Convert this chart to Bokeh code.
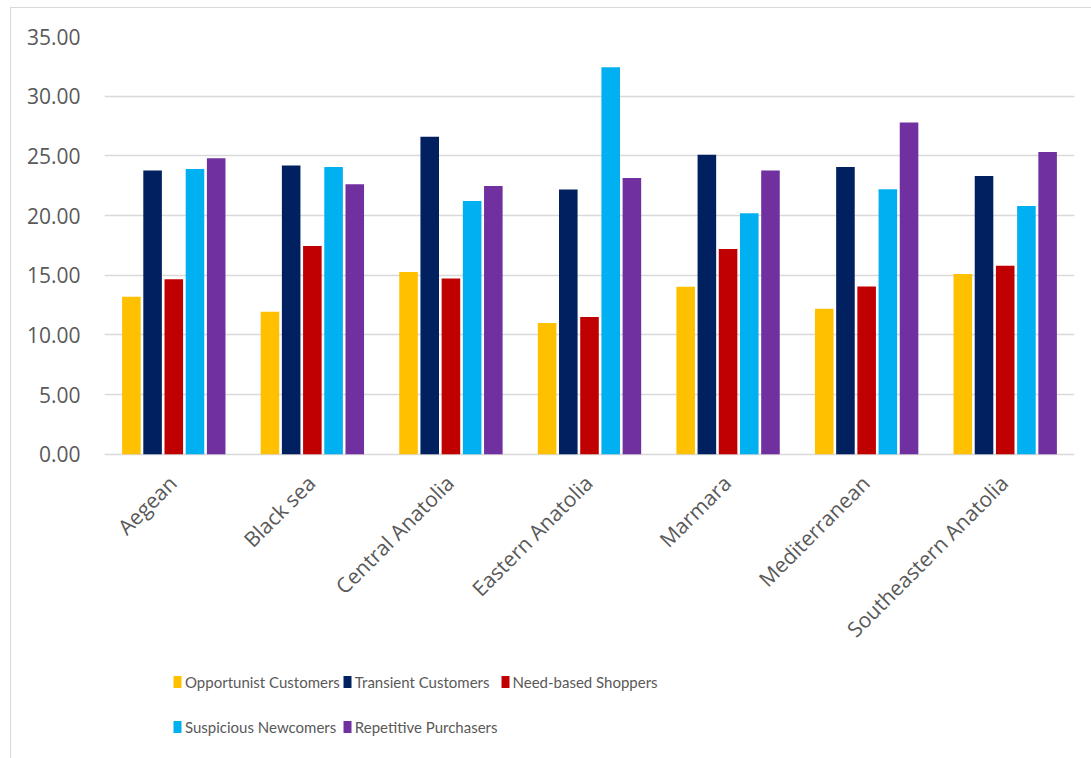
import math
from bokeh.plotting import figure
from bokeh.models import (ColumnDataSource, Range1d, Legend, LegendItem, FixedTicker,
                          NumeralTickFormatter)
from bokeh.core.properties import value
from bokeh.transform import dodge
from bokeh.embed import file_html
from bokeh.resources import INLINE

regions = ["Aegean", "Black sea", "Central Anatolia", "Eastern Anatolia",
           "Marmara", "Mediterranean", "Southeastern Anatolia"]
series_names = ["Opportunist Customers", "Transient Customers", "Need-based Shoppers",
                "Suspicious Newcomers", "Repetitive Purchasers"]
opportunist = [13.20, 11.94, 15.27, 11.00, 14.03, 12.19, 15.10]
transient = [23.77, 24.20, 26.60, 22.17, 25.10, 24.07, 23.32]
need_based = [14.65, 17.45, 14.73, 11.49, 17.20, 14.06, 15.80]
suspicious = [23.90, 24.07, 21.22, 32.43, 20.18, 22.20, 20.80]
repetitive = [24.80, 22.62, 22.48, 23.15, 23.77, 27.79, 25.33]
y_ticks = [0, 5, 10, 15, 20, 25, 30, 35]
colors = ["#FFC000", "#002060", "#C00000", "#00B0F0", "#7030A0"]

keys = ["opportunist", "transient", "need_based", "suspicious", "repetitive"]
source = ColumnDataSource(data=dict(
    region=regions, opportunist=opportunist, transient=transient,
    need_based=need_based, suspicious=suspicious, repetitive=repetitive,
    base=[0] * len(regions)))

FONT = "Open Sans"
TEXT = "#595959"
GRID = "#d9d9d9"

# the frame reaches down to the bottom so the legend can sit below the category labels
p = figure(x_range=regions, y_range=Range1d(-25.5, y_ticks[-1]), width=1081, height=751,
           output_backend="svg", toolbar_location=None, x_axis_location=None,
           min_border_left=93, min_border_right=18, min_border_top=28,
           min_border_bottom=1, margin=(7, 0, 0, 10))
p.styles = {"border-left": "1px solid #d9d9d9", "border-top": "1px solid #d9d9d9"}
p.outline_line_color = None
p.background_fill_color = "white"
p.border_fill_color = "white"

pitch = 0.153
renderers = []
for i, (k, c) in enumerate(zip(keys, colors)):
    r = p.vbar(x=dodge("region", (i - 2) * pitch, range=p.x_range), top=k,
               width=0.134, source=source, fill_color=c, line_color=None)
    renderers.append(r)

# y axis
p.yaxis.ticker = FixedTicker(ticks=y_ticks)
p.yaxis.formatter = NumeralTickFormatter(format="0.00")
p.yaxis.axis_line_color = None
p.yaxis.major_tick_line_color = None
p.yaxis.minor_tick_line_color = None
p.yaxis.major_label_standoff = 18
p.yaxis.major_label_text_font = FONT
p.yaxis.major_label_text_font_size = "21px"
p.yaxis.major_label_text_color = TEXT

p.xgrid.grid_line_color = None
p.ygrid.ticker = FixedTicker(ticks=y_ticks)
p.ygrid.grid_line_color = GRID
p.ygrid.grid_line_width = 1.5

# category labels (rotated 45 degrees) under the zero line
p.text(x="region", y="base", text="region", source=source, angle=math.pi / 4,
       text_align="right", text_baseline="middle", x_offset=-1, y_offset=25,
       text_font=value(FONT), text_font_size=value("21px"), text_color=TEXT)

items = [LegendItem(label=n, renderers=[r]) for n, r in zip(series_names, renderers)]
legend = Legend(items=items, orientation="horizontal", ncols=3,
                location=(68, 10), padding=0, spacing=2, margin=0,
                glyph_width=10, glyph_height=15, label_height=43,
                label_standoff=3, label_text_font="Lato",
                label_text_font_size="15px", label_text_color=TEXT,
                border_line_color=None, background_fill_alpha=0)
p.add_layout(legend, "center")

open("out.html", "w").write(file_html(p, INLINE))
